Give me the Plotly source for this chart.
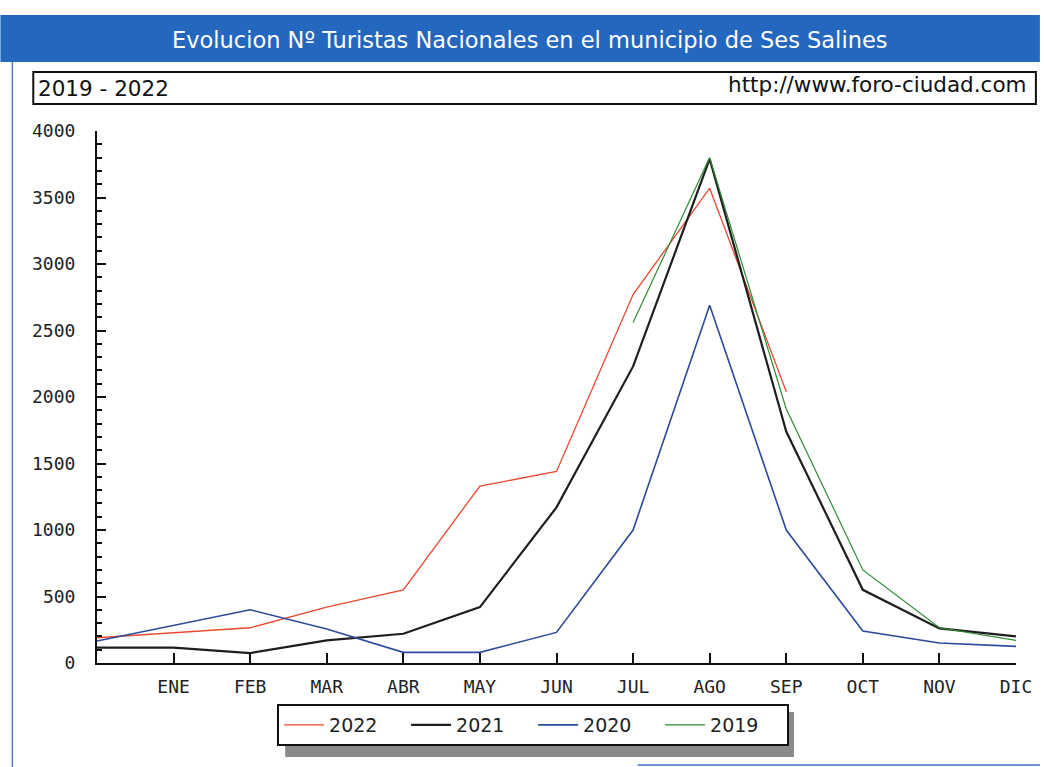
import plotly.graph_objects as go

# posiciones 0..12: la 0 no lleva etiqueta, luego ENE..DIC
meses = ["", "ENE", "FEB", "MAR", "ABR", "MAY", "JUN", "JUL", "AGO", "SEP", "OCT", "NOV", "DIC"]
posiciones = list(range(len(meses)))

t2022 = [190, 225, 265, 420, 550, 1330, 1440, 2770, 3570, 2040, None, None, None]
t2021 = [115, 115, 75, 170, 220, 420, 1170, 2230, 3790, 1740, 550, 260, 200]
t2020 = [165, 280, 400, 255, 80, 80, 230, 1000, 2690, 1000, 240, 150, 125]
t2019 = [None, None, None, None, None, None, None, 2560, 3800, 1910, 700, 265, 170]

series = [
    ("2022", t2022, "#e8492f", 1.3),
    ("2021", t2021, "#1e1e1e", 2.2),
    ("2020", t2020, "#2c4a9a", 1.6),
    ("2019", t2019, "#2e8b34", 1.2),
]

W, H = 1044, 767
L, R, T, B = 97, 1020, 131, 663  # area del grafico en pixeles


def px(x):
    return (x - L) / (R - L)


def py(y):
    return (B - y) / (B - T)


fig = go.Figure()
for nombre, vals, color, ancho in series:
    fig.add_trace(go.Scatter(x=posiciones, y=vals, mode="lines", name=nombre,
                             line=dict(color=color, width=ancho), connectgaps=False))

mono = "DejaVu Sans Mono"
shapes = [
    # barra del titulo
    dict(type="rect", xref="paper", yref="paper", x0=px(0), x1=px(1044), y0=py(62), y1=py(15),
         fillcolor="#2467bf", line=dict(width=0), layer="below"),
    # marco izquierdo y borde inferior
    dict(type="line", xref="paper", yref="paper", x0=px(12), x1=px(12), y0=py(62), y1=py(767),
         line=dict(color="#4f7fc4", width=1.5)),
    dict(type="line", xref="paper", yref="paper", x0=px(640), x1=px(1044), y0=py(765), y1=py(765),
         line=dict(color="#6f96d0", width=2)),
    # caja del subtitulo
    dict(type="rect", xref="paper", yref="paper", x0=px(33), x1=px(1040), y0=py(104), y1=py(72),
         fillcolor="white", line=dict(color="#111", width=2)),
    # sombra de la leyenda
    dict(type="rect", xref="paper", yref="paper", x0=px(286), x1=px(797), y0=py(757), y1=py(712),
         fillcolor="#8a8a8a", line=dict(width=0)),
]

annotations = [
    dict(text="Evolucion Nº Turistas Nacionales en el municipio de Ses Salines", xref="paper", yref="paper",
         x=px(531), y=py(40), xanchor="center", yanchor="middle", showarrow=False,
         font=dict(family="DejaVu Sans", size=22.5, color="white")),
    dict(text="2019 - 2022", xref="paper", yref="paper", x=px(36), y=py(88), xanchor="left",
         yanchor="middle", showarrow=False, font=dict(family="DejaVu Sans", size=21.5, color="#111")),
    dict(text="http://www.foro-ciudad.com", xref="paper", yref="paper", x=px(1033), y=py(85),
         xanchor="right", yanchor="middle", showarrow=False,
         font=dict(family="DejaVu Sans", size=21.5, color="#111")),
]

fig.update_layout(
    width=W, height=H,
    margin=dict(l=L, r=W - R, t=T, b=H - B, pad=0),
    paper_bgcolor="white", plot_bgcolor="white",
    showlegend=True,
    legend=dict(orientation="h", x=px(535), xanchor="center", y=py(704), yanchor="top",
                bgcolor="white", bordercolor="#111", borderwidth=2,
                font=dict(family="DejaVu Sans", size=19, color="#222"), entrywidth=72, itemwidth=40),
    shapes=shapes,
    annotations=annotations,
)

fig.update_xaxes(range=[0, 12], tickvals=posiciones[1:], ticktext=meses[1:],
                 showgrid=False, zeroline=False, showline=True, linecolor="#111", linewidth=2,
                 ticks="inside", ticklen=10, tickwidth=2, tickcolor="#111",
                 ticklabelstandoff=6, tickfont=dict(family=mono, size=18, color="#222"))
fig.update_yaxes(range=[0, 4000], tickvals=list(range(0, 4001, 500)),
                 showgrid=False, zeroline=False, showline=True, linecolor="#111", linewidth=2,
                 ticks="inside", ticklen=9, tickwidth=2, tickcolor="#111",
                 minor=dict(dtick=100, ticks="inside", ticklen=5, tickwidth=1.5, tickcolor="#111"),
                 ticklabelstandoff=16, tickfont=dict(family=mono, size=18, color="#222"))

fig.write_html("out.html", config={"displayModeBar": False},
               post_script="document.body.style.margin='0';document.body.style.overflow='hidden';")
